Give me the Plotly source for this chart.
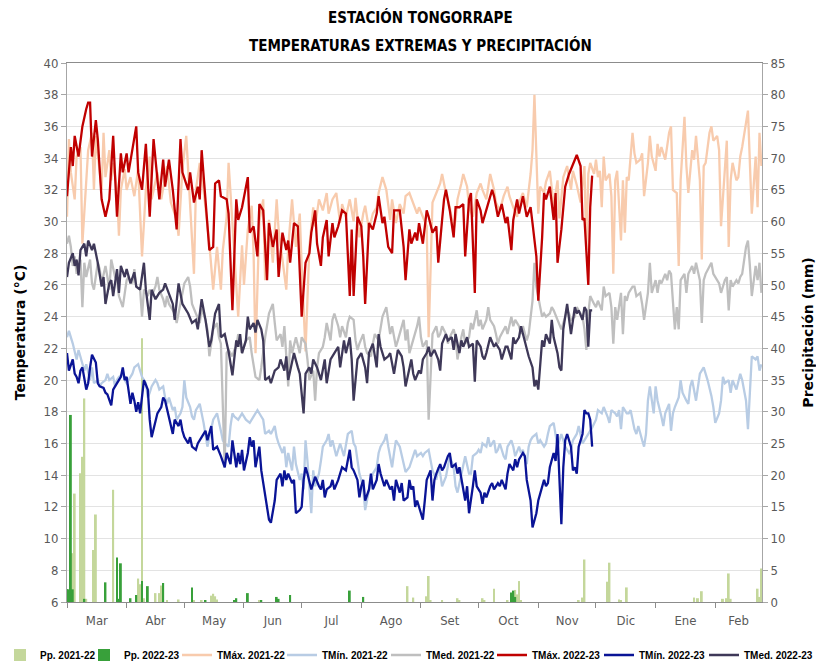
import plotly.graph_objects as go

# ---------------- data (day index from 1 March) ----------------
months = ["Mar", "Abr", "May", "Jun", "Jul", "Ago", "Set", "Oct", "Nov", "Dic", "Ene", "Feb"]
month_start = [0, 31, 61, 92, 122, 153, 184, 214, 245, 275, 306, 337]
season_end = 361.3

tmax_2122 = [(0,30.3),(1,35.2),(2,33.1),(4,31.4),(5,34.1),(7,34.7),(8,28.6),(10,33.1),(11,34.5),(13,35.6),(14,32.0),(15,35.4),(17,33.3),(18,32.0),(19,35.6),(20,32.8),(22,34.5),(23,32.6),(24,33.7),(26,32.0),(27,29.1),(28,32.0),(30,33.3),(31,32.0),(33,32.8),(35,31.6),(37,33.3),(39,27.8),(41,32.0),(43,34.1),(44,31.4),(47,33.1),(49,31.4),(50,32.2),(52,33.5),(54,31.2),(57,30.1),(58,29.1),(60,33.3),(62,35.4),(64,30.9),(66,26.7),(67,32.0),(69,33.7),(71,32.0),(74,28.6),(76,25.7),(78,28.4),(80,25.7),(81,28.2),(83,30.3),(84,33.7),(86,29.9),(88,26.3),(89,24.0),(91,28.5),(92,26.0),(94,29.5),(96,31.0),(97,28.0),(98,21.7),(100,30.0),(102,31.4),(103,26.3),(105,30.1),(107,27.4),(109,31.4),(110,29.5),(112,27.4),(114,25.7),(115,28.4),(117,31.4),(119,28.4),(121,30.5),(122,27.2),(124,21.8),(126,28.4),(128,30.9),(129,29.7),(131,31.4),(133,30.7),(135,31.8),(136,30.5),(138,31.4),(140,31.8),(142,29.9),(143,31.1),(145,30.3),(147,31.4),(149,30.0),(150,31.5),(152,29.0),(154,30.5),(155,31.0),(157,29.5),(159,30.5),(161,30.9),(162,31.8),(164,32.8),(166,32.0),(168,30.1),(169,31.4),(171,29.9),(173,31.1),(175,30.5),(176,31.6),(178,31.8),(180,31.2),(182,30.5),(183,30.9),(185,30.3),(187,29.7),(188,22.7),(189,27.4),(190,31.2),(192,31.8),(194,32.4),(195,33.0),(197,31.8),(199,30.9),(201,29.5),(202,30.1),(203,31.4),(205,32.4),(206,33.0),(208,32.2),(209,30.9),(211,30.3),(213,31.8),(215,32.4),(216,32.0),(218,31.4),(220,33.0),(222,32.0),(223,31.2),(225,30.7),(227,31.6),(229,32.2),(230,31.6),(232,30.9),(234,30.3),(235,31.2),(237,31.8),(239,30.9),(241,33.0),(242,34.5),(243,38.0),(245,30.5),(246,32.2),(248,31.8),(249,32.5),(251,33.2),(253,31.0),(255,32.6),(256,30.2),(258,32.8),(260,33.5),(262,32.0),(263,33.2),(265,32.3),(267,31.2),(269,33.5),(270,28.2),(271,33.0),(272,33.7),(274,33.0),(275,33.9),(276,32.8),(277,33.2),(278,30.9),(279,34.1),(280,32.6),(282,33.0),(283,31.6),(284,26.7),(285,32.6),(286,33.2),(288,28.8),(289,32.6),(290,29.3),(291,32.8),(292,32.6),(294,35.6),(295,34.3),(296,33.7),(298,33.9),(299,34.3),(300,31.6),(302,33.7),(303,35.4),(304,34.1),(306,33.2),(307,34.9),(308,34.1),(309,34.7),(311,33.9),(312,34.9),(313,35.6),(314,36.0),(315,32.0),(317,31.8),(318,27.2),(319,32.6),(321,36.6),(322,33.5),(323,31.8),(325,34.5),(326,33.9),(327,35.4),(329,32.6),(330,27.6),(331,33.5),(332,33.7),(334,35.6),(335,36.0),(336,35.1),(338,35.4),(339,34.5),(340,29.7),(342,33.5),(343,35.1),(344,28.4),(345,32.6),(346,33.7),(348,32.6),(349,32.8),(350,34.1),(351,34.7),(353,36.2),(354,37.0),(355,33.7),(356,30.5),(358,34.1),(359,30.9),(360,35.6),(361,33.5)]

tmin_2122 = [(0,22.7),(1,23.1),(3,22.3),(4,21.7),(5,21.3),(6,21.9),(8,21.0),(9,20.6),(10,21.0),(12,20.0),(13,20.8),(14,19.8),(16,20.0),(17,19.6),(18,19.8),(20,20.0),(21,20.4),(22,20.0),(24,20.2),(25,19.6),(26,20.0),(27,20.2),(29,20.4),(30,20.0),(31,19.8),(33,20.2),(34,20.4),(35,20.8),(37,21.0),(38,20.6),(39,20.2),(41,19.8),(42,18.9),(43,19.2),(44,19.6),(46,20.0),(47,19.8),(48,19.4),(50,19.6),(51,18.9),(52,18.5),(53,18.9),(55,18.1),(56,18.3),(57,17.5),(59,17.9),(60,18.3),(61,20.0),(62,18.9),(64,18.3),(65,17.7),(66,17.5),(67,18.1),(69,18.5),(70,17.9),(71,17.3),(73,15.8),(74,16.4),(75,17.1),(76,17.5),(77,17.7),(78,17.9),(80,16.8),(81,16.2),(82,16.0),(84,15.8),(85,17.1),(86,17.9),(87,17.7),(89,17.5),(91,17.9),(93,17.5),(95,17.3),(96,17.5),(98,17.9),(99,18.1),(101,17.7),(102,17.5),(103,16.6),(105,16.8),(106,16.6),(108,17.1),(109,16.4),(110,16.0),(112,15.4),(113,15.8),(114,14.5),(115,15.4),(117,14.3),(118,15.8),(119,14.7),(121,13.7),(122,14.1),(123,13.1),(124,16.2),(125,14.9),(127,11.6),(128,14.3),(129,13.3),(131,14.1),(132,14.9),(133,15.8),(135,16.2),(136,16.6),(137,15.8),(138,16.2),(140,15.2),(141,15.6),(142,16.0),(144,15.2),(145,15.8),(146,16.6),(148,16.8),(149,16.0),(150,15.8),(152,14.1),(153,13.7),(154,13.1),(155,11.8),(157,13.1),(158,13.7),(159,14.1),(161,14.5),(162,15.4),(163,15.8),(165,16.2),(166,16.6),(167,15.8),(169,14.5),(170,15.4),(171,16.2),(173,15.8),(174,15.2),(175,14.7),(176,14.2),(178,14.5),(180,15.2),(181,15.6),(182,15.2),(184,15.4),(185,15.2),(186,15.4),(188,15.6),(189,14.9),(190,14.3),(192,13.7),(193,14.5),(194,14.1),(195,13.3),(197,13.9),(198,14.7),(199,15.2),(201,14.5),(202,13.3),(203,12.9),(205,14.1),(206,14.5),(207,15.2),(209,14.1),(210,14.1),(211,15.2),(213,15.4),(214,15.6),(215,15.4),(216,16.0),(218,15.8),(219,16.4),(220,15.8),(222,16.2),(223,15.4),(224,15.6),(225,16.0),(227,15.2),(228,15.0),(229,15.8),(231,16.2),(232,15.8),(233,15.2),(235,15.8),(236,15.4),(237,15.6),(239,14.7),(240,15.8),(241,16.2),(242,16.4),(244,16.6),(245,16.0),(246,16.2),(248,15.8),(249,16.0),(250,16.6),(251,17.1),(253,17.3),(254,16.6),(255,15.8),(257,16.6),(258,16.2),(259,15.8),(261,15.4),(262,15.6),(263,16.2),(265,16.6),(266,17.1),(267,16.6),(268,16.0),(270,16.4),(271,16.6),(272,16.8),(273,17.0),(275,17.5),(276,18.1),(278,17.9),(279,18.3),(281,17.7),(282,17.3),(283,18.1),(285,17.9),(286,17.7),(287,18.1),(288,16.9),(289,18.3),(291,17.9),(292,17.9),(293,18.1),(295,16.9),(296,16.6),(297,17.1),(299,16.2),(300,15.8),(301,16.6),(302,18.7),(303,19.6),(305,17.9),(306,19.6),(307,18.7),(309,17.7),(310,17.1),(311,17.9),(313,18.5),(314,16.8),(315,17.9),(316,18.3),(318,18.9),(319,20.0),(320,19.2),(322,18.7),(323,18.5),(324,19.6),(325,20.0),(327,18.7),(328,19.6),(329,20.4),(331,20.8),(332,20.4),(333,20.0),(335,19.0),(336,18.3),(337,17.3),(339,17.9),(340,18.7),(341,20.2),(342,19.8),(344,20.0),(345,19.2),(346,20.0),(348,19.4),(349,20.0),(350,20.4),(351,20.0),(353,18.7),(354,16.9),(355,19.2),(356,21.5),(358,21.3),(359,21.5),(360,20.6),(361,21.0)]

tmed_2122 = [(0,28.6),(1,29.1),(2,28.4),(3,27.2),(4,27.8),(5,26.7),(6,27.2),(7,27.6),(8,24.6),(9,27.4),(10,26.5),(12,27.6),(13,26.1),(14,25.7),(16,27.4),(17,27.0),(18,26.1),(20,27.2),(21,26.5),(22,25.7),(23,27.6),(25,26.5),(26,26.3),(27,25.3),(29,24.6),(30,25.5),(31,26.3),(32,26.5),(34,26.1),(35,27.0),(36,25.9),(38,25.7),(39,24.0),(40,25.7),(42,25.3),(43,25.7),(44,25.3),(46,25.9),(47,26.5),(48,25.7),(50,25.1),(51,24.6),(52,25.3),(53,24.8),(55,24.4),(56,24.2),(57,23.6),(59,24.8),(60,25.3),(61,26.1),(63,26.5),(64,25.9),(65,24.8),(67,24.2),(68,24.0),(69,23.6),(70,24.5),(72,23.8),(73,23.2),(74,21.5),(75,22.3),(76,23.2),(78,23.6),(79,22.7),(80,22.3),(82,14.5),(83,21.7),(84,21.9),(86,21.5),(87,21.9),(88,22.1),(89,22.9),(91,21.7),(93,22.5),(95,22.7),(96,21.7),(98,20.2),(100,20.0),(101,20.8),(103,22.7),(105,24.2),(107,24.8),(108,23.6),(109,22.5),(111,22.9),(112,22.1),(113,23.4),(115,19.6),(116,22.5),(117,21.7),(119,22.7),(120,22.1),(121,21.7),(122,22.7),(124,22.3),(125,21.3),(126,20.0),(128,20.6),(129,18.7),(130,20.8),(131,21.7),(133,22.1),(134,22.7),(135,23.6),(137,22.5),(138,23.8),(139,24.2),(141,23.4),(142,22.7),(143,23.4),(145,22.7),(146,23.6),(147,24.0),(149,23.8),(150,22.5),(151,21.9),(152,22.3),(154,22.9),(155,22.1),(156,21.7),(158,21.5),(159,22.3),(160,22.9),(162,22.5),(163,23.4),(164,24.0),(166,24.6),(167,23.6),(168,22.9),(169,23.4),(171,22.1),(172,22.5),(173,22.9),(175,23.8),(176,22.5),(177,23.2),(178,21.7),(180,22.5),(182,23.4),(183,24.0),(184,22.7),(185,22.1),(187,22.5),(188,17.5),(189,20.8),(190,22.9),(192,23.4),(193,22.7),(194,22.9),(195,23.4),(197,22.9),(198,22.3),(199,22.7),(201,23.2),(202,22.7),(203,21.3),(205,22.7),(206,23.2),(207,22.3),(209,22.7),(210,23.6),(211,23.2),(213,24.4),(214,23.4),(215,23.8),(216,23.2),(218,23.8),(219,24.6),(220,23.8),(222,23.4),(223,22.9),(224,22.3),(225,22.7),(227,23.2),(228,23.4),(229,22.9),(231,24.0),(232,23.4),(233,23.8),(235,23.4),(236,22.9),(237,23.4),(239,22.5),(240,22.9),(241,24.0),(242,25.0),(243,27.4),(244,25.9),(246,24.6),(247,24.0),(248,24.2),(249,24.0),(251,24.2),(252,24.6),(253,24.4),(255,23.8),(256,23.4),(257,23.2),(258,23.6),(260,24.4),(261,24.2),(262,23.8),(264,24.0),(265,24.6),(266,24.4),(268,24.0),(269,23.2),(270,21.9),(271,24.2),(272,25.3),(274,24.8),(275,24.6),(276,25.0),(278,24.4),(279,25.9),(280,25.3),(282,25.5),(283,24.6),(284,22.3),(285,24.6),(286,23.8),(288,25.5),(289,22.9),(290,25.3),(291,25.0),(292,25.5),(294,25.9),(295,25.9),(296,25.3),(298,25.5),(299,24.8),(300,23.8),(302,25.5),(303,27.4),(304,25.5),(306,26.3),(307,25.5),(308,26.3),(309,26.1),(311,26.7),(312,26.3),(313,26.9),(314,26.7),(315,24.6),(316,23.2),(317,24.6),(318,23.2),(319,26.3),(321,26.7),(322,25.5),(323,26.7),(325,27.2),(326,26.7),(327,27.4),(329,26.3),(330,23.6),(331,26.3),(332,26.7),(334,27.2),(335,27.4),(336,26.7),(338,26.3),(339,26.1),(340,25.5),(342,26.3),(343,26.5),(344,24.4),(345,26.3),(346,25.9),(348,26.3),(349,26.1),(350,26.5),(351,26.7),(353,28.4),(354,28.8),(355,27.2),(356,25.3),(358,27.2),(359,26.3),(360,27.4),(361,25.5)]

tmax_2223 = [(0,31.6),(2,34.7),(3,33.5),(4,35.4),(6,34.1),(8,36.0),(10,37.1),(11,37.5),(12,37.5),(13,34.1),(15,36.4),(16,35.2),(18,31.4),(20,30.3),(22,31.4),(24,35.4),(26,30.3),(28,34.3),(29,33.1),(31,34.3),(32,33.1),(34,34.5),(36,36.0),(37,33.1),(39,32.0),(41,34.9),(43,30.3),(45,35.2),(46,33.9),(48,31.4),(50,33.9),(51,32.2),(53,33.9),(55,32.0),(57,29.5),(59,35.2),(60,33.1),(63,32.0),(64,33.1),(66,31.2),(68,32.2),(69,31.4),(70,34.5),(72,31.4),(74,28.2),(76,28.4),(77,32.4),(79,32.6),(80,31.6),(83,31.4),(84,30.5),(86,24.4),(88,31.4),(89,30.1),(91,30.9),(94,32.8),(95,29.3),(97,29.7),(99,27.8),(100,31.1),(102,30.7),(104,26.3),(105,29.9),(107,28.4),(109,29.5),(110,26.5),(112,29.3),(114,28.2),(115,28.8),(116,27.4),(118,29.9),(120,29.7),(121,26.7),(122,24.0),(124,27.4),(126,28.0),(127,29.3),(129,30.7),(130,28.6),(132,27.2),(133,29.0),(135,30.1),(136,27.8),(138,29.9),(139,29.0),(141,29.7),(143,30.7),(145,30.5),(147,25.3),(148,29.5),(149,25.3),(151,30.3),(153,29.7),(154,27.8),(155,24.8),(157,29.9),(159,29.5),(161,30.5),(162,31.6),(164,29.9),(165,30.3),(167,28.4),(169,28.0),(170,30.7),(173,30.7),(175,28.4),(176,26.3),(178,29.5),(179,28.6),(181,29.3),(182,28.8),(183,29.9),(185,28.6),(187,30.7),(188,30.3),(190,29.3),(192,29.7),(193,27.4),(195,30.1),(196,31.4),(197,32.0),(199,30.7),(201,29.0),(202,30.9),(204,30.9),(206,31.1),(207,27.8),(209,31.4),(210,31.8),(212,25.5),(213,31.4),(215,30.7),(216,29.9),(218,30.7),(221,32.0),(222,31.6),(224,30.3),(226,31.1),(228,29.9),(229,30.3),(231,28.2),(232,30.1),(234,31.4),(235,30.5),(237,31.6),(239,30.3),(241,30.9),(242,29.9),(244,27.8),(245,25.0),(247,29.0),(248,31.8),(249,31.4),(251,32.2),(253,30.1),(254,31.8),(255,27.4),(257,29.5),(259,32.2),(261,33.0),(263,33.6),(265,34.2),(267,33.5),(268,30.1),(269,30.2),(271,26.0),(272,30.9),(273,32.9)]

tmin_2223 = [(0,21.7),(1,20.6),(3,21.3),(4,20.4),(5,20.2),(6,19.8),(7,20.6),(8,20.8),(10,19.4),(11,19.8),(12,20.8),(13,21.6),(15,21.1),(16,19.8),(17,19.6),(19,19.5),(20,19.2),(21,19.1),(23,18.4),(24,19.4),(25,19.6),(27,20.0),(28,20.2),(29,20.8),(30,20.0),(31,20.2),(33,18.5),(34,19.2),(35,18.7),(36,18.0),(37,18.6),(38,17.9),(39,18.9),(40,20.0),(42,19.4),(43,17.5),(44,16.4),(46,17.5),(47,17.9),(49,18.3),(50,18.9),(51,18.7),(53,17.7),(54,17.1),(55,16.6),(56,17.5),(58,17.1),(59,17.5),(60,16.8),(61,16.4),(63,16.0),(64,16.4),(65,15.8),(67,15.6),(68,16.0),(70,16.4),(71,16.6),(72,16.8),(73,16.2),(75,17.1),(76,15.6),(78,15.8),(80,15.2),(82,14.5),(83,15.4),(85,14.7),(86,16.2),(88,14.5),(89,15.4),(90,14.7),(91,15.6),(92,14.3),(94,15.4),(95,16.4),(96,15.8),(97,16.2),(98,14.5),(100,15.8),(101,14.3),(103,12.6),(105,11.2),(106,11.0),(108,12.4),(109,13.7),(110,13.9),(111,14.1),(112,13.3),(113,14.3),(114,13.7),(115,14.1),(117,13.5),(118,13.7),(119,11.6),(121,11.8),(122,12.0),(123,13.7),(124,14.5),(125,14.1),(127,13.1),(128,13.5),(129,13.9),(131,13.3),(132,13.1),(133,13.7),(134,12.6),(135,13.1),(137,13.3),(138,13.7),(139,13.1),(141,13.7),(142,14.1),(143,14.5),(145,14.3),(146,14.9),(147,15.6),(148,14.5),(149,14.3),(151,13.7),(152,12.6),(153,13.3),(154,13.7),(155,12.4),(157,13.1),(158,14.1),(159,13.1),(161,13.7),(162,14.7),(163,14.1),(165,13.3),(166,13.7),(168,13.1),(169,13.3),(170,12.4),(171,13.7),(173,12.9),(174,13.5),(175,12.4),(177,12.6),(178,13.7),(179,13.1),(180,13.3),(181,12.0),(182,12.4),(184,11.6),(185,11.2),(186,12.4),(187,13.7),(189,14.3),(190,12.4),(191,13.7),(192,14.1),(194,14.7),(195,14.3),(196,14.5),(198,15.2),(199,15.4),(200,14.5),(202,14.7),(203,14.1),(204,14.5),(205,13.7),(207,12.4),(208,13.3),(209,11.6),(211,13.3),(212,14.3),(213,13.3),(215,12.9),(216,12.2),(217,12.9),(218,12.6),(220,13.3),(221,13.5),(222,13.1),(224,13.5),(225,13.3),(226,13.7),(228,13.1),(229,14.1),(230,14.7),(232,14.3),(233,15.0),(234,14.5),(235,15.0),(237,15.4),(238,15.2),(239,13.7),(240,12.9),(241,12.4),(242,10.7),(244,11.6),(245,12.4),(246,12.9),(248,13.7),(249,13.3),(250,13.5),(251,14.5),(253,15.4),(254,14.9),(255,16.6),(257,10.9),(258,14.5),(259,16.2),(260,16.6),(262,15.8),(263,14.3),(264,14.5),(265,14.1),(266,15.8),(268,16.6),(269,18.1),(270,17.9),(271,17.9),(272,17.5),(273,15.8)]

tmed_2223 = [(0,26.5),(1,27.4),(3,28.0),(4,27.2),(5,27.6),(6,26.6),(7,28.2),(9,28.6),(10,27.8),(11,28.8),(13,28.2),(14,28.6),(15,28.0),(16,27.4),(18,25.9),(19,26.5),(20,24.8),(22,26.1),(23,26.3),(24,25.3),(26,27.0),(27,25.5),(28,27.2),(30,26.5),(31,27.0),(33,26.1),(35,26.8),(36,25.9),(38,25.7),(40,27.4),(41,25.7),(43,23.8),(44,25.7),(46,25.1),(48,25.5),(50,25.7),(51,26.1),(53,25.5),(55,24.8),(56,23.8),(58,26.1),(60,24.8),(61,24.6),(63,24.2),(65,23.6),(67,23.8),(68,23.2),(70,25.1),(72,23.8),(74,22.1),(75,22.5),(77,24.2),(79,24.8),(80,22.7),(82,22.9),(84,21.8),(86,20.3),(88,22.5),(89,22.1),(90,22.9),(91,21.7),(93,22.5),(94,24.0),(95,23.2),(97,23.6),(98,23.0),(99,23.8),(101,23.2),(102,22.5),(103,20.0),(105,20.2),(106,19.8),(107,20.2),(108,20.6),(110,20.8),(111,21.3),(113,20.6),(114,21.5),(115,20.0),(117,21.3),(118,21.7),(120,20.8),(121,20.4),(123,17.9),(124,20.4),(126,20.8),(127,20.4),(128,21.3),(130,20.8),(132,20.0),(134,21.3),(135,19.8),(137,21.3),(139,21.7),(141,22.1),(142,20.8),(144,22.5),(145,21.7),(147,22.7),(148,21.3),(149,18.7),(151,21.3),(153,21.7),(155,20.8),(156,19.8),(157,21.7),(159,22.3),(161,20.8),(162,22.9),(163,22.1),(165,21.3),(167,21.5),(168,21.7),(170,20.4),(172,21.9),(174,21.5),(175,20.8),(176,19.6),(178,20.8),(179,21.3),(180,20.4),(181,20.0),(183,20.6),(184,20.4),(185,21.3),(187,21.7),(188,22.1),(189,21.5),(191,21.9),(193,21.3),(194,20.6),(195,22.3),(197,22.9),(198,22.5),(200,22.7),(201,21.9),(202,22.9),(204,21.7),(205,22.5),(206,22.1),(208,22.7),(209,22.1),(211,22.3),(212,19.9),(213,22.5),(215,22.1),(216,21.5),(217,21.3),(218,21.7),(220,22.7),(222,22.1),(223,22.3),(225,21.9),(226,21.3),(228,22.1),(229,22.1),(231,21.3),(232,22.7),(233,22.3),(235,22.7),(236,23.4),(238,22.5),(239,22.1),(240,21.5),(242,20.8),(243,19.6),(244,20.0),(245,19.4),(247,22.5),(248,22.1),(249,22.9),(251,22.3),(252,23.8),(253,22.7),(255,21.7),(256,20.8),(257,20.6),(258,23.2),(260,24.8),(261,23.8),(262,22.9),(264,24.6),(265,24.2),(266,24.4),(268,23.8),(269,24.6),(270,24.4),(271,22.1),(272,24.4),(273,24.4)]

pp_2122 = [(3,7.7),(4,17.1),(7,20.3),(8,22.9),(9,32.1),(10,0.5),(14,8.2),(15,13.8),(24,17.7),(37,3.7),(38,2.8),(39,41.6),(40,0.6),(46,1.4),(48,1.4),(49,2.6),(52,0.3),(58,0.4),(66,0.3),(70,0.2),(75,1.0),(76,1.3),(77,0.9),(78,0.4),(100,0.2),(177,2.5),(180,0.7),(187,0.9),(188,4.1),(189,0.3),(195,0.2),(203,0.6),(204,0.3),(216,0.6),(217,0.3),(222,2.1),(229,0.3),(233,1.9),(234,1.2),(235,3.3),(236,0.3),(266,0.3),(268,0.7),(269,6.7),(281,3.2),(282,6.2),(287,0.4),(288,0.3),(291,2.3),(326,0.7),(328,0.6),(330,1.7),(341,0.5),(343,0.6),(344,4.5),(345,0.5),(359,2.1),(360,0.8),(361,5.3)]

pp_2223 = [(0,2.0),(1,2.0),(2,29.5),(3,2.0),(9,0.5),(20,3.1),(26,7.0),(27,0.5),(28,6.1),(33,0.6),(36,1.1),(39,3.3),(42,2.5),(50,3.0),(65,2.3),(72,0.3),(87,0.3),(88,0.6),(94,1.4),(101,0.3),(109,0.8),(110,0.5),(116,1.1),(147,1.8),(154,0.8),(231,1.5),(232,1.8),(233,0.8)]

# ---------------- figure ----------------
NARROW = "Liberation Sans Narrow, DejaVu Sans Condensed, Arial Narrow, sans-serif"
LEG = "Liberation Sans, Arial, sans-serif"
AXT = "DejaVu Sans, sans-serif"

W, H = 816, 665
ML, MR, MT, MB = 67, 54, 63, 63
PW, PH = W - ML - MR, H - MT - MB


def unzip(pairs):
    return [p[0] for p in pairs], [p[1] for p in pairs]


def px_x(px):
    return (px - ML) / PW


def px_y(py):
    return (H - MB - py) / PH


fig = go.Figure()

# legend slot left edges (pixels) for the eight entries
legend_left = [0, 84, 177, 282, 386, 492, 599, 704]
legend_ids = ["legend"] + ["legend%d" % i for i in range(2, 9)]

bars = [("Pp. 2021-22", pp_2122, "#C4D79B"), ("Pp. 2022-23", pp_2223, "#38A03A")]
for i, (name, pairs, color) in enumerate(bars):
    d, v = unzip(pairs)
    fig.add_trace(go.Bar(x=d, y=v, name=name, width=1.0,
                         marker=dict(color=color, line=dict(width=0)),
                         xaxis="x", yaxis="y", legend=legend_ids[i]))

line_series = [
    ("TMáx. 2021-22", tmax_2122, "#F8CBAD"),
    ("TMín. 2021-22", tmin_2122, "#B8CCE4"),
    ("TMed. 2021-22", tmed_2122, "#BFBFBF"),
    ("TMáx. 2022-23", tmax_2223, "#C00000"),
    ("TMín. 2022-23", tmin_2223, "#0A1496"),
    ("TMed. 2022-23", tmed_2223, "#3E3858"),
]
for j, (name, pairs, color) in enumerate(line_series):
    d, v = unzip(pairs)
    fig.add_trace(go.Scatter(x=d, y=v, name=name, mode="lines",
                             line=dict(color=color, width=2.3),
                             xaxis="x", yaxis="y2", legend=legend_ids[j + 2]))

ends = month_start[1:] + [season_end]
mids = [(a + min(b, season_end)) / 2 for a, b in zip(month_start, ends)]

legends = {}
for lid, left in zip(legend_ids, legend_left):
    legends[lid] = dict(orientation="h", x=px_x(left), xanchor="left",
                        y=px_y(655), yanchor="middle",
                        font=dict(family=LEG, size=10, color="#000000", weight="bold"),
                        itemwidth=30, bgcolor="rgba(0,0,0,0)", borderwidth=0)

fig.update_layout(
    width=W, height=H,
    margin=dict(l=ML, r=MR, t=MT, b=MB, autoexpand=False),
    paper_bgcolor="white", plot_bgcolor="white",
    barmode="overlay",
    showlegend=True,
    font=dict(family=NARROW, size=13, color="#595959"),
    xaxis=dict(range=[0, season_end], tickmode="array", tickvals=mids, ticktext=months,
               ticks="outside", ticklen=0, showgrid=False, zeroline=False,
               showline=True, linecolor="#8C8C8C", linewidth=1, mirror=True,
               tickfont=dict(family=NARROW, size=13, color="#595959"),
               ticklabelstandoff=6,
               minor=dict(tickmode="array", tickvals=month_start, ticks="outside",
                          ticklen=5, tickcolor="#8C8C8C", showgrid=False)),
    yaxis=dict(range=[0, 85], dtick=5, tick0=0, side="right", showgrid=False, zeroline=False,
               showline=True, linecolor="#A6A6A6", ticks="outside", ticklen=5, tickcolor="#A6A6A6",
               tickfont=dict(family=NARROW, size=13, color="#595959"),
               title=dict(text="<b>Precipitación (mm)</b>", standoff=28,
                          font=dict(family=AXT, size=14, color="#000000"))),
    yaxis2=dict(range=[6, 40], dtick=2, tick0=6, side="left", overlaying="y",
                showgrid=True, gridcolor="#E3E3E3", gridwidth=1, zeroline=False,
                showline=True, linecolor="#A6A6A6", ticks="outside", ticklen=5, tickcolor="#A6A6A6",
                tickfont=dict(family=NARROW, size=13, color="#595959"),
                title=dict(text="<b>Temperatura (°C)</b>", standoff=14,
                           font=dict(family=AXT, size=14, color="#000000"))),
    annotations=[
        dict(text="<b>ESTACIÓN TONGORRAPE</b>", xref="paper", yref="paper", x=px_x(420), y=px_y(18),
             xanchor="center", yanchor="middle", showarrow=False,
             font=dict(family=NARROW, size=15, color="#000000")),
        dict(text="<b>TEMPERATURAS EXTREMAS Y PRECIPITACIÓN</b>", xref="paper", yref="paper",
             x=px_x(420), y=px_y(45), xanchor="center", yanchor="middle", showarrow=False,
             font=dict(family=NARROW, size=15, color="#000000")),
    ],
    **legends,
)

fig.write_html("out.html", config={"displayModeBar": False},
               post_script="document.body.style.margin='0px';")
